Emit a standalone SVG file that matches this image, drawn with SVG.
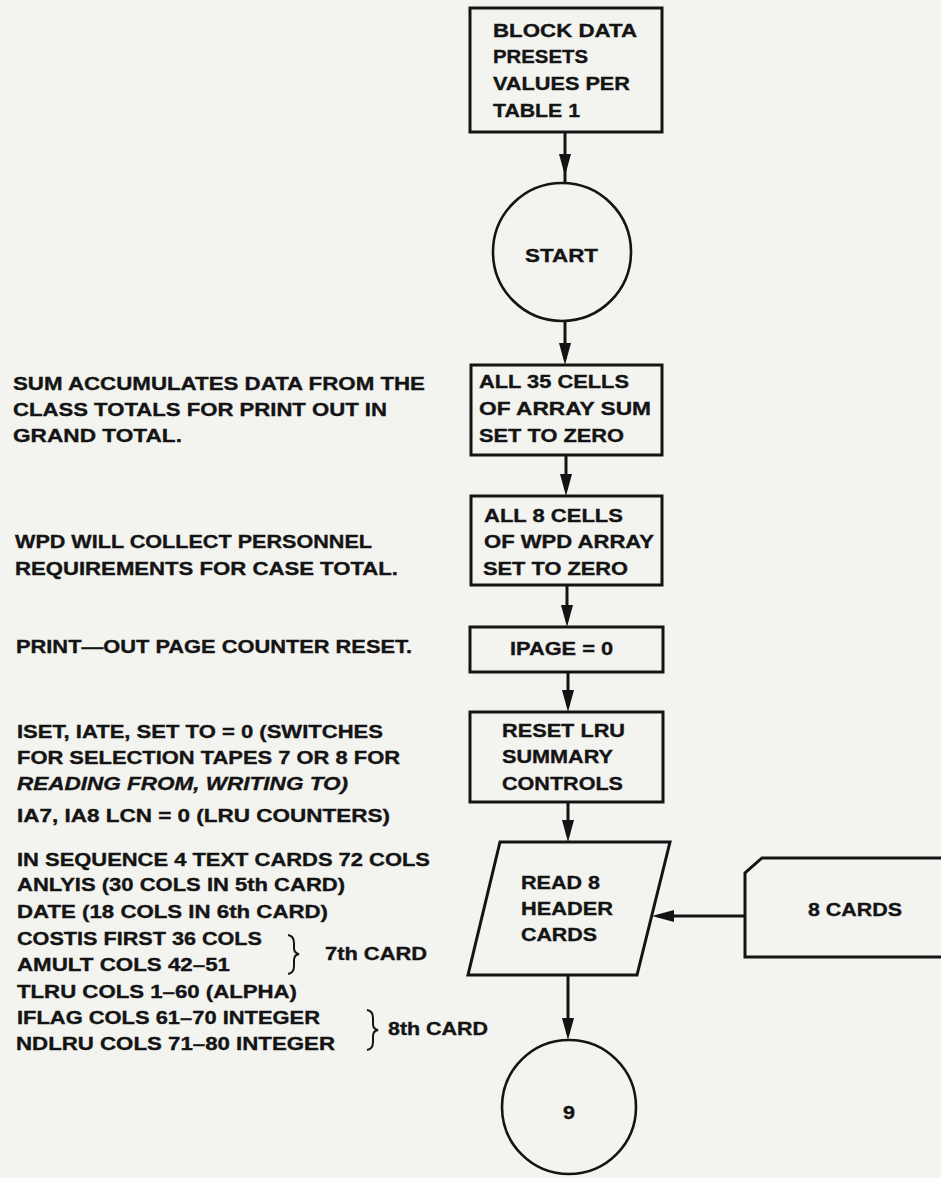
<svg xmlns="http://www.w3.org/2000/svg" width="941" height="1178" viewBox="0 0 941 1178">
<style>
.bg{fill:#f3f3f0}
.shape{fill:none;stroke:#141414;stroke-width:3}
.circ{fill:none;stroke:#141414;stroke-width:2.6}
.conn{fill:none;stroke:#141414;stroke-width:3}
.brace{fill:none;stroke:#141414;stroke-width:2}
text{font-family:"Liberation Sans",Arial,sans-serif;font-weight:bold;font-size:18.5px;fill:#141414;stroke:#141414;stroke-width:0.35}
.it{font-style:italic}
</style>
<defs>
<marker id="ah" viewBox="0 0 22 12" refX="16" refY="6" markerWidth="22" markerHeight="12" markerUnits="userSpaceOnUse" orient="auto">
<path d="M0,0 L22,6 L0,12 z" fill="#141414"/>
</marker>
</defs>
<rect class="bg" x="0" y="0" width="941" height="1178"/>

<g id="connectors">
<path class="conn" d="M565,132 V170 V184" marker-mid="url(#ah)"/>
<path class="conn" d="M565,320 V359" marker-end="url(#ah)"/>
<path class="conn" d="M566,455 V490" marker-end="url(#ah)"/>
<path class="conn" d="M567,585 V621" marker-end="url(#ah)"/>
<path class="conn" d="M568,672 V706" marker-end="url(#ah)"/>
<path class="conn" d="M568,802 V836" marker-end="url(#ah)"/>
<path class="conn" d="M745,916 H658" marker-end="url(#ah)"/>
<path class="conn" d="M568,975 V1034" marker-end="url(#ah)"/>
</g>

<g id="block-data">
<rect class="shape" x="470" y="8" width="192" height="124"/>
<text x="493" y="37" textLength="144" lengthAdjust="spacingAndGlyphs">BLOCK DATA</text>
<text x="493" y="63" textLength="95" lengthAdjust="spacingAndGlyphs">PRESETS</text>
<text x="493" y="90" textLength="137" lengthAdjust="spacingAndGlyphs">VALUES PER</text>
<text x="493" y="117" textLength="87" lengthAdjust="spacingAndGlyphs">TABLE 1</text>
</g>

<g id="start">
<circle class="circ" cx="562" cy="252" r="69"/>
<text x="525" y="262" textLength="73" lengthAdjust="spacingAndGlyphs">START</text>
</g>

<g id="sum-zero">
<rect class="shape" x="471" y="365" width="191" height="90"/>
<text x="479" y="388" textLength="150" lengthAdjust="spacingAndGlyphs">ALL 35 CELLS</text>
<text x="479" y="415" textLength="172" lengthAdjust="spacingAndGlyphs">OF ARRAY SUM</text>
<text x="479" y="442" textLength="145" lengthAdjust="spacingAndGlyphs">SET TO ZERO</text>
</g>

<g id="wpd-zero">
<rect class="shape" x="471" y="496" width="191" height="89"/>
<text x="484" y="522" textLength="139" lengthAdjust="spacingAndGlyphs">ALL 8 CELLS</text>
<text x="484" y="548" textLength="170" lengthAdjust="spacingAndGlyphs">OF WPD ARRAY</text>
<text x="483" y="575" textLength="145" lengthAdjust="spacingAndGlyphs">SET TO ZERO</text>
</g>

<g id="ipage">
<rect class="shape" x="470" y="627" width="193" height="45"/>
<text x="510" y="655" textLength="103" lengthAdjust="spacingAndGlyphs">IPAGE = 0</text>
</g>

<g id="reset-lru">
<rect class="shape" x="470" y="712" width="193" height="90"/>
<text x="502" y="737" textLength="123" lengthAdjust="spacingAndGlyphs">RESET LRU</text>
<text x="502" y="763" textLength="111" lengthAdjust="spacingAndGlyphs">SUMMARY</text>
<text x="502" y="790" textLength="121" lengthAdjust="spacingAndGlyphs">CONTROLS</text>
</g>

<g id="read-header">
<path class="shape" d="M500,842 H670 L637,975 H468 Z"/>
<text x="521" y="889" textLength="79" lengthAdjust="spacingAndGlyphs">READ 8</text>
<text x="521" y="915" textLength="92" lengthAdjust="spacingAndGlyphs">HEADER</text>
<text x="521" y="941" textLength="76" lengthAdjust="spacingAndGlyphs">CARDS</text>
</g>

<g id="cards">
<path class="shape" d="M946,858 H762 L745,873 V957 H946"/>
<text x="808" y="916" textLength="94" lengthAdjust="spacingAndGlyphs">8 CARDS</text>
</g>

<g id="connector-9">
<circle class="circ" cx="569" cy="1107" r="67"/>
<text x="563" y="1119" textLength="12" lengthAdjust="spacingAndGlyphs">9</text>
</g>

<g id="notes">
<text x="13" y="390" textLength="412" lengthAdjust="spacingAndGlyphs">SUM ACCUMULATES DATA FROM THE</text>
<text x="13" y="416" textLength="374" lengthAdjust="spacingAndGlyphs">CLASS TOTALS FOR PRINT OUT IN</text>
<text x="13" y="442" textLength="169" lengthAdjust="spacingAndGlyphs">GRAND TOTAL.</text>
<text x="15" y="548" textLength="357" lengthAdjust="spacingAndGlyphs">WPD WILL COLLECT PERSONNEL</text>
<text x="15" y="575" textLength="383" lengthAdjust="spacingAndGlyphs">REQUIREMENTS FOR CASE TOTAL.</text>
<text x="16" y="653" textLength="396" lengthAdjust="spacingAndGlyphs">PRINT—OUT PAGE COUNTER RESET.</text>
<text x="17" y="738" textLength="366" lengthAdjust="spacingAndGlyphs">ISET, IATE, SET TO = 0 (SWITCHES</text>
<text x="17" y="764" textLength="383" lengthAdjust="spacingAndGlyphs">FOR SELECTION TAPES 7 OR 8 FOR</text>
<text class="it" x="17" y="790" textLength="331" lengthAdjust="spacingAndGlyphs">READING FROM, WRITING TO)</text>
<text x="17" y="822" textLength="373" lengthAdjust="spacingAndGlyphs">IA7, IA8 LCN = 0 (LRU COUNTERS)</text>
<text x="17" y="866" textLength="413" lengthAdjust="spacingAndGlyphs">IN SEQUENCE 4 TEXT CARDS 72 COLS</text>
<text x="17" y="891" textLength="328" lengthAdjust="spacingAndGlyphs">ANLYIS (30 COLS IN 5th CARD)</text>
<text x="17" y="918" textLength="311" lengthAdjust="spacingAndGlyphs">DATE (18 COLS IN 6th CARD)</text>
<text x="17" y="945" textLength="245" lengthAdjust="spacingAndGlyphs">COSTIS FIRST 36 COLS</text>
<text x="17" y="971" textLength="213" lengthAdjust="spacingAndGlyphs">AMULT COLS 42–51</text>
<text x="17" y="998" textLength="280" lengthAdjust="spacingAndGlyphs">TLRU COLS 1–60 (ALPHA)</text>
<text x="17" y="1024" textLength="303" lengthAdjust="spacingAndGlyphs">IFLAG COLS 61–70 INTEGER</text>
<text x="16" y="1050" textLength="319" lengthAdjust="spacingAndGlyphs">NDLRU COLS 71–80 INTEGER</text>
<path class="brace" d="M288,935 Q294,936 294,943 V948 Q294,953 299,954 Q294,955 294,960 V966 Q294,973 288,974"/>
<text x="325" y="960" textLength="102" lengthAdjust="spacingAndGlyphs">7th CARD</text>
<path class="brace" d="M367,1010 Q373,1011 373,1018 V1024 Q373,1029 378,1030 Q373,1031 373,1036 V1042 Q373,1049 367,1050"/>
<text x="388" y="1035" textLength="100" lengthAdjust="spacingAndGlyphs">8th CARD</text>
</g>
</svg>
